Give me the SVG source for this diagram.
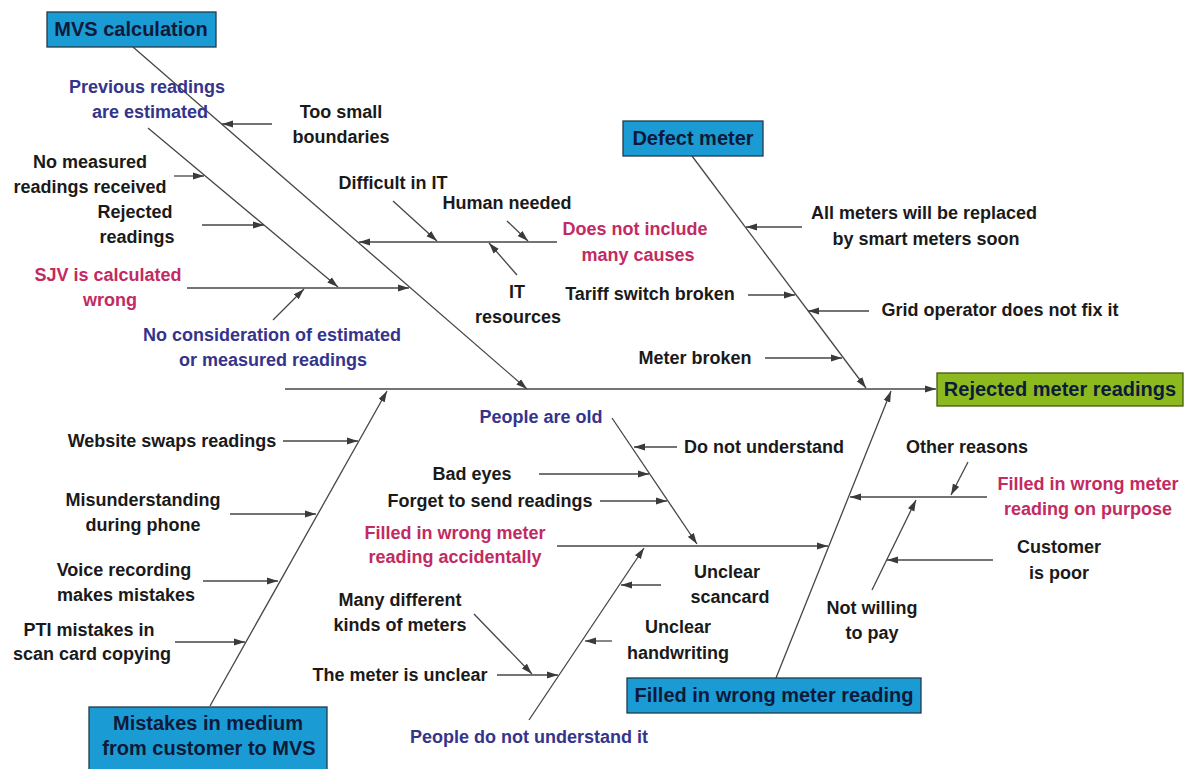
<svg xmlns="http://www.w3.org/2000/svg" width="1185" height="769" viewBox="0 0 1185 769">
<style>
text{font-family:"Liberation Sans",Arial,sans-serif;font-weight:bold;font-size:18px;text-anchor:middle;fill:#1a1a1a}
.navy{fill:#34348c}
.pink{fill:#c32a62}
.title{font-size:20px;fill:#0e1a3a}
.box{fill:#1b9bd3;stroke:#24394a;stroke-width:1.3}
.gbox{fill:#8cba1e;stroke:#46580e;stroke-width:1.3}
.c line{stroke:#464646;stroke-width:1.3;marker-end:url(#ah)}
</style>
<defs>
<marker id="ah" markerUnits="userSpaceOnUse" markerWidth="12" markerHeight="8" refX="11" refY="4" orient="auto"><path d="M0,0.5 L11,4 L0,7.5 z" fill="#3a3a3a"/></marker>
</defs>
<rect width="1185" height="769" fill="#ffffff"/>
<g id="connectors" class="c">
<line x1="285" y1="389" x2="936" y2="389"/>
<line x1="133" y1="47" x2="527" y2="389"/>
<line x1="272" y1="124" x2="222" y2="124"/>
<line x1="557" y1="242" x2="359" y2="242"/>
<line x1="393" y1="201" x2="437" y2="241"/>
<line x1="507" y1="221" x2="528" y2="241"/>
<line x1="517" y1="275" x2="489" y2="243"/>
<line x1="187" y1="288" x2="409" y2="288"/>
<line x1="148" y1="128" x2="338" y2="287"/>
<line x1="174" y1="176" x2="204" y2="176"/>
<line x1="202" y1="225" x2="264" y2="225"/>
<line x1="273" y1="320" x2="304" y2="289"/>
<line x1="692" y1="156" x2="866" y2="388"/>
<line x1="802" y1="227" x2="746" y2="227"/>
<line x1="748" y1="295" x2="795" y2="295"/>
<line x1="869" y1="311" x2="808" y2="311"/>
<line x1="765" y1="358" x2="842" y2="358"/>
<line x1="210" y1="706" x2="387" y2="391"/>
<line x1="283" y1="441" x2="358" y2="441"/>
<line x1="230" y1="514" x2="316" y2="514"/>
<line x1="203" y1="581" x2="278" y2="581"/>
<line x1="175" y1="642" x2="245" y2="642"/>
<line x1="776" y1="678" x2="891" y2="391"/>
<line x1="987" y1="497" x2="850" y2="497"/>
<line x1="968" y1="462" x2="951" y2="495"/>
<line x1="872" y1="590" x2="916" y2="500"/>
<line x1="993" y1="560" x2="887" y2="560"/>
<line x1="557" y1="546" x2="828" y2="546"/>
<line x1="612" y1="418" x2="697" y2="544"/>
<line x1="677" y1="447" x2="634" y2="447"/>
<line x1="539" y1="474" x2="649" y2="474"/>
<line x1="600" y1="501" x2="667" y2="501"/>
<line x1="529" y1="720" x2="644" y2="548"/>
<line x1="661" y1="585" x2="621" y2="585"/>
<line x1="612" y1="641" x2="585" y2="641"/>
<line x1="497" y1="675" x2="558" y2="675"/>
<line x1="474" y1="614" x2="532" y2="674"/>
</g>
<g id="mvs-calculation"><rect class="box" x="47" y="12" width="169" height="35"/><text class="title" x="131" y="36">MVS calculation</text></g>
<g id="defect-meter"><rect class="box" x="623" y="121" width="140" height="35"/><text class="title" x="693" y="145">Defect meter</text></g>
<g id="rejected-meter-readings"><rect class="gbox" x="937" y="373" width="246" height="33"/><text class="title" x="1060" y="396">Rejected meter readings</text></g>
<g id="mistakes-in-medium"><rect class="box" x="89" y="707" width="238" height="70"/><text class="title" x="208" y="730">Mistakes in medium</text><text class="title" x="209" y="755">from customer to MVS</text></g>
<g id="filled-in-wrong"><rect class="box" x="627" y="678" width="294" height="35"/><text class="title" x="774" y="702">Filled in wrong meter reading</text></g>
<g id="previous-readings"><text class="navy" x="147" y="93">Previous readings</text><text class="navy" x="150" y="118">are estimated</text></g>
<g id="too-small"><text x="341" y="118">Too small</text><text x="341" y="143">boundaries</text></g>
<g id="no-measured"><text x="90" y="168">No measured</text><text x="90" y="193">readings received</text></g>
<g id="rejected-readings"><text x="135" y="218">Rejected</text><text x="137" y="243">readings</text></g>
<g id="sjv"><text class="pink" x="108" y="281">SJV is calculated</text><text class="pink" x="110" y="306">wrong</text></g>
<g id="no-consideration"><text class="navy" x="272" y="341">No consideration of estimated</text><text class="navy" x="273" y="366">or measured readings</text></g>
<g id="difficult-it"><text x="393" y="189">Difficult in IT</text></g>
<g id="human-needed"><text x="507" y="209">Human needed</text></g>
<g id="does-not-include"><text class="pink" x="635" y="235">Does not include</text><text class="pink" x="638" y="261">many causes</text></g>
<g id="it-resources"><text x="517" y="298">IT</text><text x="518" y="323">resources</text></g>
<g id="tariff"><text x="650" y="300">Tariff switch broken</text></g>
<g id="meter-broken"><text x="695" y="364">Meter broken</text></g>
<g id="all-meters"><text x="924" y="219">All meters will be replaced</text><text x="926" y="245">by smart meters soon</text></g>
<g id="grid-operator"><text x="1000" y="316">Grid operator does not fix it</text></g>
<g id="website"><text x="172" y="447">Website swaps readings</text></g>
<g id="misunderstanding"><text x="143" y="506">Misunderstanding</text><text x="143" y="531">during phone</text></g>
<g id="voice"><text x="124" y="576">Voice recording</text><text x="126" y="601">makes mistakes</text></g>
<g id="pti"><text x="89" y="636">PTI mistakes in</text><text x="92" y="660">scan card copying</text></g>
<g id="people-old"><text class="navy" x="541" y="423">People are old</text></g>
<g id="do-not-understand"><text x="764" y="453">Do not understand</text></g>
<g id="bad-eyes"><text x="472" y="480">Bad eyes</text></g>
<g id="forget"><text x="490" y="507">Forget to send readings</text></g>
<g id="accidentally"><text class="pink" x="455" y="539">Filled in wrong meter</text><text class="pink" x="455" y="563">reading accidentally</text></g>
<g id="many-different"><text x="400" y="606">Many different</text><text x="400" y="631">kinds of meters</text></g>
<g id="meter-unclear"><text x="400" y="681">The meter is unclear</text></g>
<g id="people-do-not"><text class="navy" x="529" y="743">People do not understand it</text></g>
<g id="unclear-scancard"><text x="727" y="578">Unclear</text><text x="730" y="603">scancard</text></g>
<g id="unclear-handwriting"><text x="678" y="633">Unclear</text><text x="678" y="659">handwriting</text></g>
<g id="not-willing"><text x="872" y="614">Not willing</text><text x="872" y="639">to pay</text></g>
<g id="other-reasons"><text x="967" y="453">Other reasons</text></g>
<g id="on-purpose"><text class="pink" x="1088" y="490">Filled in wrong meter</text><text class="pink" x="1088" y="515">reading on purpose</text></g>
<g id="customer-poor"><text x="1059" y="553">Customer</text><text x="1059" y="579">is poor</text></g>
</svg>
